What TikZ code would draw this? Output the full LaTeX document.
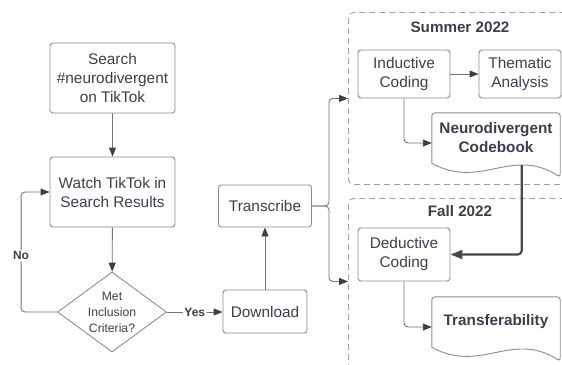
\documentclass[tikz,border=0pt]{standalone}
\usepackage{fontspec}
\setmainfont{Liberation Sans}
\usetikzlibrary{shapes.geometric,arrows.meta,calc}

\definecolor{ink}{HTML}{3A3F4A}
\definecolor{edge}{HTML}{8C8C8C}
\definecolor{wire}{HTML}{747474}
\definecolor{frame}{HTML}{A0A0A0}
\definecolor{heavyline}{HTML}{45484F}

\tikzset{
  base/.style={draw=edge, line width=0.9pt, text=ink, align=center, inner sep=0pt,
    font=\fontsize{15.4}{19}\selectfont},
  box/.style={base, rectangle, rounded corners=3pt},
  decision/.style={base, diamond, aspect=1.36, minimum width=109pt, minimum height=80pt,
    font=\fontsize{12.2}{16}\selectfont},
  doctext/.style={text=ink, align=center, inner sep=0pt, minimum width=128pt, minimum height=50pt,
    font=\bfseries\fontsize{15.3}{19}\selectfont},
  docline/.style={draw=edge, line width=0.9pt},
  phase/.style={draw=frame, line width=0.9pt, dash pattern=on 6pt off 4pt, rounded corners=5pt, inner sep=0pt},
  title/.style={text=ink, font=\bfseries\fontsize{15.2}{18}\selectfont},
  lbl/.style={text=ink, fill=white, inner sep=1.5pt, font=\bfseries\fontsize{12}{14}\selectfont},
  flow/.style={draw=wire, line width=0.9pt, rounded corners=4pt,
    -{Triangle[length=9pt,width=7pt,color=ink]}},
  heavy/.style={draw=heavyline, line width=2.2pt, rounded corners=4pt,
    -{Triangle[length=12pt,width=9pt]}},
}

\begin{document}
\begin{tikzpicture}[x=1pt, y=-1pt]
\clip (0,0) rectangle (562,364);

% phase frames
\node[phase, anchor=north west, minimum width=262pt, minimum height=172pt] (summer) at (348,12) {};
\node[phase, anchor=north west, minimum width=262pt, minimum height=200pt] (fall) at (348,198) {};
\node[title] (summertitle) at (460,27) {Summer 2022};
\node[title] (falltitle) at (460,211) {Fall 2022};

% collection steps
\node[box, minimum width=125pt, minimum height=70pt] (search) at (112.5,78) {Search\\\#neurodivergent\\on TikTok};
\node[box, minimum width=125pt, minimum height=70pt] (watch) at (112.5,192) {Watch TikTok in\\Search Results};
\node[decision] (criteria) at (112,312) {Met\\Inclusion\\Criteria?};
\node[box, minimum width=84pt, minimum height=43pt] (download) at (265,311.5) {Download};
\node[box, minimum width=93pt, minimum height=42pt] (transcribe) at (265,206) {Transcribe};

% analysis steps
\node[box, minimum width=92pt, minimum height=48pt] (inductive) at (404,74) {Inductive\\Coding};
\node[box, minimum width=82pt, minimum height=48pt] (thematic) at (520,74) {Thematic\\Analysis};
\node[box, minimum width=92pt, minimum height=53pt] (deductive) at (404,254.5) {Deductive\\Coding};

% document shapes
\node[doctext] (codebook) at (496,138) {Neurodivergent\\Codebook};
\draw[docline, rounded corners=3pt] (codebook.south west) -- (codebook.north west)
  -- (codebook.north east) -- ($(codebook.south east)+(0,14)$) [sharp corners]
  .. controls ($(codebook.south east)+(-48,-17)$) and ($(codebook.south west)+(48,27)$) .. (codebook.south west);
\node[doctext] (transfer) at (496,322) {Transferability};
\draw[docline, rounded corners=3pt] (transfer.south west) -- (transfer.north west)
  -- (transfer.north east) -- ($(transfer.south east)+(0,14)$) [sharp corners]
  .. controls ($(transfer.south east)+(-48,-17)$) and ($(transfer.south west)+(48,27)$) .. (transfer.south west);

% connectors
\draw[flow] (search) -- (watch);
\draw[flow] (watch) -- (criteria);
\draw[flow] (criteria.west) -- ++(-36,0) |- node[lbl, pos=0.235] {No} (watch.west);
\draw[flow] (criteria.east) -- node[lbl] {Yes} (download.west |- criteria.east);
\draw[flow] (download) -- (transcribe);
\draw[flow] (transcribe.east) -- ++(17,0) |- (summer.west |- inductive.south);
\draw[flow] (transcribe.east) -- ++(17,0) |- (fall.west |- deductive.south);
\draw[flow] (inductive) -- (thematic);
\draw[flow] (inductive.south) |- ($(codebook.west)+(0,5)$);
\draw[flow] (deductive.south) |- ($(transfer.west)+(0,5)$);
\draw[heavy] ($(codebook.south west)+(90,2)$) |- (deductive.east);
\end{tikzpicture}
\end{document}
